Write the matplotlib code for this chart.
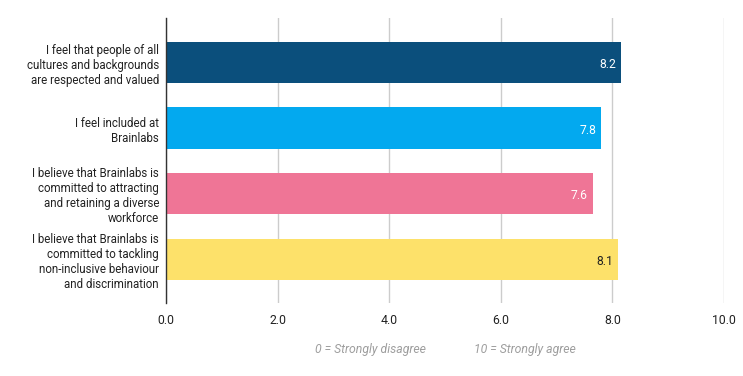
import matplotlib.pyplot as plt

plt.rcParams['font.family'] = ['Roboto', 'DejaVu Sans']

# data
labels = [
    "I feel that people of all\ncultures and backgrounds\nare respected and valued",
    "I feel included at\nBrainlabs",
    "I believe that Brainlabs is\ncommitted to attracting\nand retaining a diverse\nworkforce",
    "I believe that Brainlabs is\ncommitted to tackling\nnon-inclusive behaviour\nand discrimination",
]
scores = [8.16, 7.8, 7.65, 8.1]
score_text = ["8.2", "7.8", "7.6", "8.1"]
colors = ["#0b4f7c", "#03a9ef", "#ef7596", "#fde16a"]
text_colors = ["white", "white", "white", "#222222"]
xticks = [0, 2, 4, 6, 8, 10]

fig = plt.figure(figsize=(7.43, 3.76), dpi=100)
ax = fig.add_axes([0.2234, 0.194, 0.7510, 0.758])

ypos = list(range(len(labels)))
ax.barh(ypos, scores, height=0.63, color=colors, zorder=2)

for y, v, t, c in zip(ypos, scores, score_text, text_colors):
    ax.text(v - 0.09, y + 0.03, t, ha='right', va='center', color=c, fontsize=8.7, zorder=3)

ax.set_ylim(3.67, -0.68)
ax.set_xlim(0, 10)
ax.set_yticks(ypos)
ax.set_yticklabels(labels, fontsize=8.3, color='#222222', linespacing=1.2)
ax.set_xticks(xticks)
ax.set_xticklabels([f"{t:.1f}" for t in xticks], fontsize=8.8, color='#222222')
ax.tick_params(axis='y', length=0, pad=5)
ax.tick_params(axis='x', length=0, pad=8)

ax.grid(axis='x', color='#cccccc', linewidth=1, zorder=0)
for s in ['top', 'right', 'bottom']:
    ax.spines[s].set_visible(False)
ax.spines['left'].set_color('#333333')
ax.spines['left'].set_linewidth(1)
ax.spines['left'].set_zorder(3)

fig.text(370 / 743, 1 - 350 / 376, "0 = Strongly disagree", ha='center', va='center',
         fontsize=8.8, style='italic', color='#9e9e9e')
fig.text(525 / 743, 1 - 350 / 376, "10 = Strongly agree", ha='center', va='center',
         fontsize=8.8, style='italic', color='#9e9e9e')

fig.savefig("out.png", dpi=100)
